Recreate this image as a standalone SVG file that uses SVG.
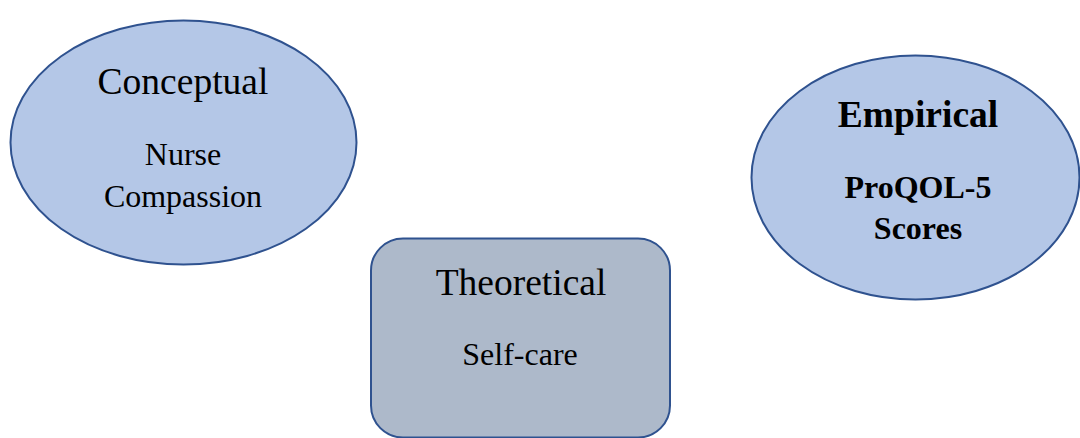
<svg xmlns="http://www.w3.org/2000/svg" width="1080" height="438" viewBox="0 0 1080 438">
<style>
.node{stroke:#2F528F;stroke-width:2}
.ell{fill:#B4C7E7}
.box{fill:#ADB9CA}
text{font-family:"Liberation Serif","Times New Roman",serif;fill:#000;text-anchor:middle}
.h{font-size:37.5px}
.s{font-size:32px}
.b{font-weight:bold}
</style>
<rect width="1080" height="438" fill="#fff"/>
<g id="conceptual">
<ellipse class="node ell" cx="183.5" cy="142.5" rx="173" ry="122"/>
<text class="h" x="183" y="94">Conceptual</text>
<text class="s" x="183" y="165">Nurse</text>
<text class="s" x="183" y="207">Compassion</text>
</g>
<g id="empirical">
<ellipse class="node ell" cx="915.5" cy="177.5" rx="164" ry="122"/>
<text class="h b" x="918" y="127">Empirical</text>
<text class="s b" x="918" y="198">ProQOL-5</text>
<text class="s b" x="918" y="239">Scores</text>
</g>
<g id="theoretical">
<rect class="node box" x="371" y="238.5" width="299" height="199" rx="32" ry="32"/>
<text class="h" x="521" y="295">Theoretical</text>
<text class="s" x="520" y="365">Self-care</text>
</g>
<g id="connectors"></g>
</svg>
